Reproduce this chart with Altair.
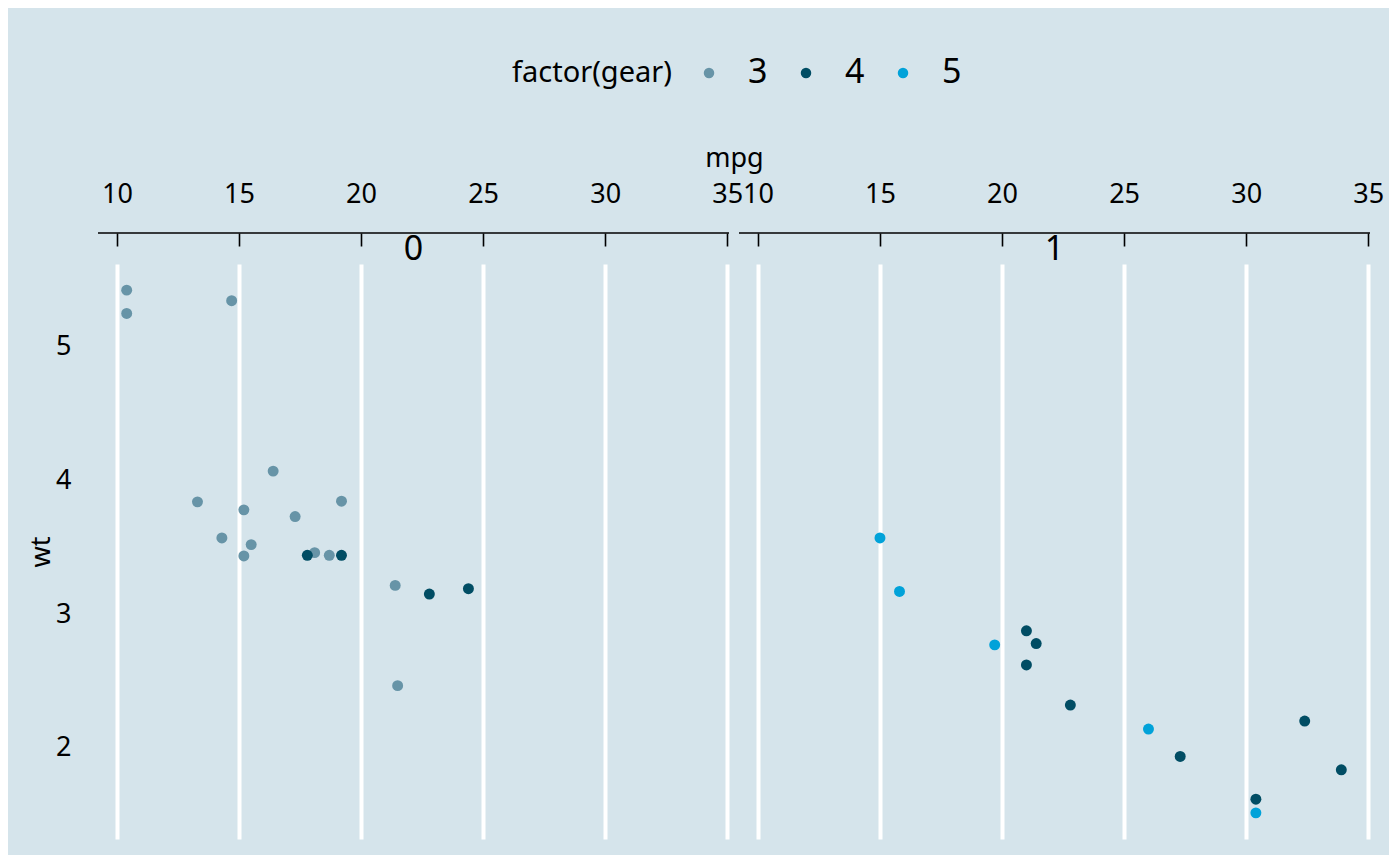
import altair as alt
import pandas as pd

mpg = [21.0, 21.0, 22.8, 21.4, 18.7, 18.1, 14.3, 24.4, 22.8, 19.2, 17.8, 16.4, 17.3, 15.2,
       10.4, 10.4, 14.7, 32.4, 30.4, 33.9, 21.5, 15.5, 15.2, 13.3, 19.2, 27.3, 26.0, 30.4,
       15.8, 19.7, 15.0, 21.4]
wt = [2.620, 2.875, 2.320, 3.215, 3.440, 3.460, 3.570, 3.190, 3.150, 3.440, 3.440, 4.070,
      3.730, 3.780, 5.250, 5.424, 5.345, 2.200, 1.615, 1.835, 2.465, 3.520, 3.435, 3.840,
      3.845, 1.935, 2.140, 1.513, 3.170, 2.770, 3.570, 2.780]
am = [1, 1, 1, 0, 0, 0, 0, 0, 0, 0, 0, 0, 0, 0, 0, 0, 0, 1, 1, 1, 0, 0, 0, 0, 0, 1, 1, 1,
      1, 1, 1, 1]
gear = [4, 4, 4, 3, 3, 3, 3, 4, 4, 4, 4, 3, 3, 3, 3, 3, 3, 4, 4, 4, 3, 3, 3, 3, 3, 4, 5, 5,
        5, 5, 5, 4]

gear_levels = ["3", "4", "5"]
gear_colors = ["#6794a7", "#014d64", "#01a2d9"]
am_levels = [0, 1]
x_ticks = [10, 15, 20, 25, 30, 35]
y_ticks = [2, 3, 4, 5]

df = pd.DataFrame({"mpg": mpg, "wt": wt, "am": am, "gear": [str(g) for g in gear]})

W, H = 631, 575
x_dom = [9.225, 35.075]
y_dom = [1.3175, 5.6196]
FONT = "Noto Sans"
BG = "#d5e4eb"


def panel(a, first):
    d = df[df["am"] == a]
    xaxis = alt.Axis(
        orient="top", values=x_ticks, offset=18, tickSize=13, tickWidth=1.6,
        tickColor="black", domain=False, labelFontSize=27, labelColor="black",
        labelPadding=25, labelFont=FONT, grid=True, gridColor="white", gridWidth=4,
        title="mpg" if first else None,
        **({"titleFontSize": 27, "titleFont": FONT, "titleFontWeight": "normal",
            "titleX": W + 5, "titleY": -80, "titleAlign": "center",
            "titleBaseline": "alphabetic", "titleColor": "black"} if first else {}),
    )
    if first:
        yaxis = alt.Axis(values=y_ticks, ticks=False, domain=False, grid=False,
                         labelFontSize=27, labelFont=FONT, labelColor="black",
                         labelPadding=27, title="wt", titleFontSize=27, titleFont=FONT,
                         titleFontWeight="normal", titleColor="black", titlePadding=0)
    else:
        yaxis = None
    pts = alt.Chart(d).mark_circle(size=120, opacity=1).encode(
        x=alt.X("mpg:Q", scale=alt.Scale(domain=x_dom, nice=False, zero=False), axis=xaxis),
        y=alt.Y("wt:Q", scale=alt.Scale(domain=y_dom, nice=False, zero=False), axis=yaxis),
        color=alt.Color("gear:N", scale=alt.Scale(domain=gear_levels, range=gear_colors),
                        legend=alt.Legend(title="factor(gear)", orient="none",
                                          direction="horizontal", titleOrient="left",
                                          legendX=414, legendY=-208,
                                          symbolType="circle", symbolSize=110,
                                          symbolStrokeWidth=0, labelFontSize=34,
                                          labelFont=FONT, titleFont=FONT,
                                          titleFontSize=29, titleFontWeight="normal",
                                          labelOffset=22, columnPadding=21,
                                          titlePadding=20, labelColor="black",
                                          titleColor="black")),
    )
    lab = pd.DataFrame({"lab": [str(a)]})
    rule = alt.Chart(lab).mark_rule(color="black", strokeWidth=1.6).encode(
        x=alt.value(0), x2=alt.value(W), y=alt.value(-31))
    txt = alt.Chart(lab).mark_text(fontSize=34, font=FONT, color="black",
                                   baseline="middle").encode(
        x=alt.value(W / 2), y=alt.value(-14), text="lab:N")
    return alt.layer(pts, rule, txt).properties(width=W, height=H)


chart = alt.hconcat(panel(0, True), panel(1, False), spacing=10, bounds="flush").properties(
    background=BG, padding={"left": 19, "top": 48, "right": 5, "bottom": 16}
).configure_view(stroke=None).configure_axis(labelFont=FONT, titleFont=FONT)

chart.save("out.html", embed_options={"renderer": "svg", "actions": False})
